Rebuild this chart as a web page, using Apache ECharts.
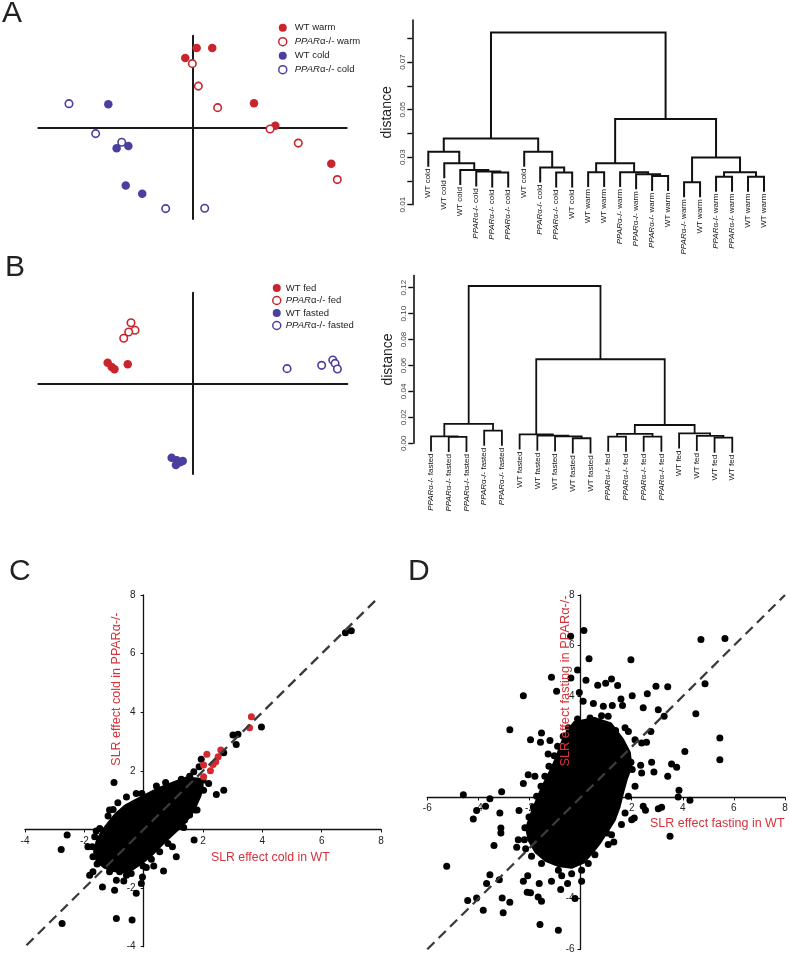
<!DOCTYPE html>
<html><head><meta charset="utf-8">
<script src="https://cdn.jsdelivr.net/npm/echarts@6/dist/echarts.min.js"></script>
<style>html,body{margin:0;padding:0;background:#fff}#c{width:790px;height:954px}</style>
</head><body><div id="c"></div>
<script>
// ---------- Panel A: PCA scores (warm / cold)
const aWtWarm   = [[0.27,5.19],[1.28,5.19],[-0.47,4.54],[3.99,1.57],[5.37,0.11],[9.0,-2.38]];
const aKoWarm   = [[-0.01,4.17],[0.38,2.70],[1.63,1.29],[5.03,-0.11],[6.86,-1.03],[9.39,-3.42]];
const aWtCold   = [[-5.46,1.51],[-4.92,-1.37],[-4.16,-1.22],[-4.33,-3.80],[-3.26,-4.34]];
const aKoCold   = [[-8.01,1.55],[-6.28,-0.41],[-4.59,-0.98],[-1.74,-5.32],[0.79,-5.30]];
// ---------- Panel A: dendrogram
const dendroALabels = ['WT cold','WT cold','WT cold','PPARα-/- cold','PPARα-/- cold','PPARα-/- cold','WT cold','PPARα-/- cold','PPARα-/- cold','WT cold','WT warm','WT warm','PPARα-/- warm','PPARα-/- warm','PPARα-/- warm','WT warm','PPARα-/- warm','WT warm','PPARα-/- warm','PPARα-/- warm','WT warm','WT warm'];
const dendroAMerges = [[-17,-18],[-19,-20],[-21,-22],[-15,-16],[-14,4],[-5,-6],[-9,-10],[2,3],[-11,-12],[-13,5],[-4,6],[-3,11],[-8,7],[-2,12],[9,10],[1,8],[-1,14],[-7,13],[17,18],[15,16],[19,20]];
const dendroAHeights = [0.0194,0.0218,0.0218,0.0221,0.0228,0.0235,0.0235,0.0236,0.0237,0.0237,0.0240,0.0246,0.0256,0.0274,0.0274,0.0299,0.0323,0.0323,0.0379,0.0460,0.0824];
const dendroAHang = 0.0063;
const dendroATicks = [0.01,0.02,0.03,0.04,0.05,0.06,0.07,0.08];
const dendroATickLabels = [0.01,0.03,0.05,0.07];
// ---------- Panel B: PCA scores (fed / fasted)
const bWtFed     = [[-5.51,1.36],[-5.25,1.08],[-5.07,0.93],[-4.21,1.26]];
const bKoFed     = [[-4.00,4.01],[-3.74,3.51],[-4.15,3.40],[-4.47,2.98]];
const bWtFasted  = [[-1.37,-4.93],[-1.04,-5.10],[-0.65,-5.15],[-1.09,-5.41],[-0.83,-5.23]];
const bKoFasted  = [[6.10,0.97],[8.34,1.19],[9.06,1.54],[9.21,1.32],[9.36,0.95]];
// ---------- Panel B: dendrogram
const dendroBLabels = ['PPARα-/- fasted','PPARα-/- fasted','PPARα-/- fasted','PPARα-/- fasted','PPARα-/- fasted','WT fasted','WT fasted','WT fasted','WT fasted','WT fasted','PPARα-/- fed','PPARα-/- fed','PPARα-/- fed','PPARα-/- fed','WT fed','WT fed','WT fed','WT fed'];
const dendroBMerges = [[-9,-10],[-17,-18],[-2,-3],[-11,-12],[-13,-14],[-1,3],[-8,1],[-16,2],[-7,7],[-6,9],[4,5],[-15,8],[-4,-5],[11,12],[6,13],[10,14],[15,16]];
const dendroBHeights = [0.0039,0.0044,0.0049,0.0051,0.0051,0.0054,0.0054,0.0057,0.0059,0.0069,0.0072,0.0077,0.0098,0.0141,0.0149,0.0648,0.1213];
const dendroBHang = 0.0117;
const dendroBTicks = [0,0.02,0.04,0.06,0.08,0.10,0.12];
// ---------- Panel C: SLR effect cold (WT vs PPARa-/-)
const cCore = [[1.89,1.68],[1.44,1.72],[0.99,1.55],[0.54,1.37],[0.09,1.14],[-0.30,0.94],[-0.64,0.74],[-0.92,0.49],[-1.15,0.20],[-1.37,-0.08],[-1.54,-0.42],[-1.62,-0.76],[-1.54,-1.05],[-1.31,-1.25],[-1.03,-1.37],[-0.70,-1.41],[-0.36,-1.30],[-0.08,-1.10],[0.20,-0.88],[0.48,-0.59],[0.76,-0.31],[1.04,-0.05],[1.30,0.20],[1.53,0.49],[1.72,0.83],[1.87,1.17],[1.94,1.51]];
const cGenes = [[6.80,6.71],[7.00,6.78],[3.97,3.50],[3.18,3.25],[3.01,3.22],[3.12,2.90],[2.70,2.62],[1.94,2.40],[1.87,2.14],[1.69,1.97],[1.55,1.82],[1.27,1.71],[0.74,1.60],[2.19,1.57],[2.45,1.19],[2.70,1.34],[1.72,0.66],[1.55,0.49],[1.07,0.09],[0.97,-0.59],[1.10,-0.93],[1.70,-0.36],[0.67,-1.42],[0.34,-1.25],[-0.04,-1.62],[-0.08,-1.84],[-0.25,-2.18],[-0.67,-1.76],[-0.92,-1.73],[-0.98,-2.07],[-1.39,-1.96],[-1.71,-1.44],[-1.82,-1.56],[-1.88,-0.59],[-1.60,-0.05],[-2.58,-0.19],[-2.78,-0.68],[-2.75,-3.21],[-0.92,-3.04],[-0.39,-3.09],[-1.00,1.60],[-0.06,1.23],[-1.20,0.46],[-1.03,0.68],[-0.53,0.77],[-1.48,-0.48],[-0.81,-1.44],[-0.42,-1.50],[0.09,-1.30],[1.38,0.32],[1.49,1.11],
 [-1.15,0.66],[-0.87,0.91],[-0.58,1.11],[-0.25,1.23],[0.43,1.48],[-1.48,0.03],[-1.65,-0.25],[-1.73,-0.59],[-1.71,-0.93],[-1.57,-1.18],[-1.15,-1.44],[-0.58,-1.56],[-0.02,-1.25],[0.26,-1.02],[0.54,-0.76],[0.82,-0.48],[1.35,0.07],[1.80,0.66],[2.02,1.34],[2.00,1.68]];
const cRedGenes = [[3.63,3.85],[3.57,3.47],[2.60,2.71],[2.51,2.48],[2.43,2.31],[2.34,2.22],[2.25,2.00],[2.13,2.57],[2.02,2.20],[2.02,1.80]];
const cIdentity = [-3.95, 7.85];
// ---------- Panel D: SLR effect fasting (WT vs PPARa-/-)
const dCore = [[-0.22,2.92],[0.56,3.08],[1.15,2.88],[1.60,2.28],[1.87,1.76],[1.93,1.23],[1.74,0.70],[1.60,0.18],[1.47,-0.35],[1.28,-0.88],[0.95,-1.40],[0.69,-1.80],[0.43,-2.13],[0.10,-2.52],[-0.35,-2.72],[-0.87,-2.65],[-1.33,-2.46],[-1.72,-2.13],[-1.98,-1.67],[-2.07,-1.21],[-1.94,-0.81],[-1.79,-0.41],[-1.63,-0.02],[-1.46,0.38],[-1.27,0.77],[-1.07,1.17],[-0.90,1.56],[-0.74,2.02],[-0.55,2.48]];
const dGenes = [[0.13,6.60],[-0.39,6.37],[0.33,5.48],[1.97,5.44],[-0.12,5.04],[-0.38,4.72],[-1.14,4.75],[0.21,4.63],[1.21,4.68],[0.67,4.43],[0.98,4.51],[1.45,4.42],[-0.05,4.15],[-0.94,4.20],[-2.24,4.02],[1.58,3.89],[2.02,4.02],[2.61,4.10],[2.95,4.39],[3.41,4.37],[0.10,3.80],[0.50,3.71],[0.89,3.60],[1.24,3.63],[1.64,3.63],[2.45,3.54],[3.04,3.47],[3.27,3.21],[4.71,6.24],[5.65,6.28],[4.87,4.49],[4.51,3.31],[5.45,2.35],[5.45,1.49],[4.08,1.82],[3.56,1.32],[3.76,1.19],[3.41,0.84],[2.78,1.39],[2.87,1.01],[2.35,1.27],[1.97,1.39],[2.39,0.97],[3.85,0.28],[3.82,0.02],[4.28,-0.11],[3.17,-0.39],[3.04,-0.45],[3.50,-1.53],[2.45,-0.35],[2.54,-0.51],[2.10,-0.81],[2.00,-0.88],[1.30,-1.76],[1.02,-1.40],[0.53,-1.86],[1.08,-0.88],[2.75,2.61],[-2.77,2.68],[-1.96,2.28],[-1.53,2.55],[-1.20,2.25],[-1.57,2.18],[-1.27,1.72],[-1.79,0.84],[-2.05,0.90],[-2.24,0.55],[-3.09,0.23],[-3.55,-0.05],[-3.72,-0.35],[-4.07,-0.52],[-4.20,-0.85],[-4.59,0.11],[-3.16,-0.61],[-3.12,-1.21],[-3.12,-1.40],[-2.41,-0.52],[-3.39,-1.90],[-2.44,-1.67],[-2.50,-1.97],[-5.24,-2.72],[-3.55,-3.05],[-3.18,-3.25],[-3.68,-3.40],[-4.42,-4.07],[-4.07,-3.97],[-3.81,-4.46],[-3.07,-3.97],[-2.77,-4.14],[-3.03,-4.56],[-2.07,-3.09],[-2.24,-3.31],[-2.09,-3.75],[-1.96,-3.77],[-1.66,-3.93],[-1.53,-4.10],[-1.59,-5.02],[-0.87,-5.25],[-0.22,-3.99],[0.04,-3.31],[-0.51,-3.40],[-0.78,-3.64],[-1.14,-3.31],[-1.62,-3.40],[-0.74,-3.09],
 [0.37,3.14],[0.82,3.23],[1.08,3.21],[-0.12,3.10],[1.87,2.61],[2.13,2.28],[2.39,2.15],[2.58,2.18],[1.74,2.75],[1.37,2.65],[2.02,1.10],[2.13,0.44],[1.87,0.05],[1.74,-0.61],[1.60,-1.07],[1.21,-1.47],[1.08,-1.86],[0.56,-2.26],[0.30,-2.61],[0.04,-2.88],[-0.35,-3.01],[-0.87,-2.88],[-1.53,-2.61],[-1.92,-2.32],[-2.15,-2.03],[-2.20,-1.67],[-2.18,-1.20],[-2.02,-0.77],[-1.85,-0.38],[-1.72,0.05],[-1.55,0.44],[-1.40,0.84],[-1.24,1.23],[-1.03,1.65],[-0.90,2.02],[-0.68,2.42],[-0.48,2.75]];
const dIdentity = [-6, 8];

const RED = '#C9252C', BLUE = '#4A3F9F', TRED = '#D3333B';
const FF = '"Liberation Sans", Arial, sans-serif';
const italicPPAR = s => s.replace('PPAR', '{i|PPAR}');

const chart = echarts.init(document.getElementById('c'), null, {renderer: 'canvas', width: 790, height: 954});

// grid geometry (layout only)
const G = [
  {left: 38.3, top: 35.7, width: 308.4, height: 183.3},
  {left: 412.3, top: 20, width: 367.7, height: 184.7},
  {left: 38.3, top: 292.7, width: 309, height: 181.2},
  {left: 413.3, top: 275.6, width: 336.7, height: 167.7},
  {left: 25, top: 595, width: 356, height: 351.7},
  {left: 427.3, top: 595, width: 357.7, height: 354.3}
];

function crossAxis(grid, min, max) {
  return {gridIndex: grid, type: 'value', min, max,
    axisLine: {show: true, onZero: true, lineStyle: {color: '#1a1a1a', width: 2}},
    axisTick: {show: false}, axisLabel: {show: false}, splitLine: {show: false}};
}
function hiddenAxis(grid, min, max) {
  return {gridIndex: grid, type: 'value', min, max, show: false, splitLine: {show: false}};
}
function dendroYAxis(grid, min, max, ticks, labels, digits) {
  return {gridIndex: grid, type: 'value', min, max,
    axisLine: {show: true, onZero: false, lineStyle: {color: '#111', width: 1.6}},
    axisTick: {show: true, length: 5, customValues: ticks, lineStyle: {color: '#111', width: 1.4}},
    axisLabel: {customValues: labels, rotate: 90, margin: 6, fontSize: 8, color: '#444', fontFamily: FF,
      formatter: v => Number(v).toFixed(digits)},
    splitLine: {show: false},
    name: 'distance', nameLocation: 'middle', nameGap: 18,
    nameTextStyle: {fontSize: 14, color: '#222', fontFamily: FF}};
}
// SLR axes: crossing at zero (shifted with offset so line, ticks and labels move together)
function slrAxis(dim, grid, min, max, otherMin, otherMax, margin) {
  const g = G[grid];
  const off = dim === 'x' ? -g.height * (0 - otherMin) / (otherMax - otherMin)
                          : -g.width * (0 - otherMin) / (otherMax - otherMin);
  return {gridIndex: grid, type: 'value', min, max, interval: 2, offset: off,
    axisLine: {show: true, onZero: false, lineStyle: {color: '#111', width: 1.3}},
    axisTick: {show: true, length: 3, lineStyle: {color: '#111', width: 1}},
    axisLabel: {margin, fontSize: 10, color: '#222', fontFamily: FF, formatter: v => v === 0 ? '' : String(v)},
    splitLine: {show: false}};
}
function pcaSeries(name, grid, data, color, open) {
  return {name, type: 'scatter', xAxisIndex: grid, yAxisIndex: grid, data, symbolSize: open ? 7.5 : 8.5,
    symbol: 'circle', silent: true,
    itemStyle: open ? {color: '#fff', borderColor: color, borderWidth: 1.6, opacity: 1} : {color, opacity: 1}};
}
function dendroSeries(grid, merges, heights, hang, labels, lw) {
  const nx = [];
  const cx = c => c < 0 ? -c : nx[c - 1];
  merges.forEach((m, i) => { nx[i] = (cx(m[0]) + cx(m[1])) / 2; });
  return {type: 'custom', xAxisIndex: grid, yAxisIndex: grid, clip: false, silent: true,
    data: merges.map((m, i) => [nx[i], heights[i]]),
    renderItem(params, api) {
      const i = params.dataIndex, m = merges[i], h = heights[i];
      const kids = m.map(c => c < 0 ? {x: -c, y: h - hang, leaf: -c} : {x: nx[c - 1], y: heights[c - 1]});
      const pts = [api.coord([kids[0].x, kids[0].y]), api.coord([kids[0].x, h]),
                   api.coord([kids[1].x, h]), api.coord([kids[1].x, kids[1].y])];
      const children = [{type: 'polyline', shape: {points: pts},
        style: {stroke: '#111', lineWidth: lw, fill: null, lineJoin: 'miter', lineCap: 'butt'}}];
      kids.forEach(k => {
        if (k.leaf) {
          const p = api.coord([k.x, k.y]);
          children.push({type: 'text', x: p[0], y: p[1] + 2, rotation: Math.PI / 2,
            style: {text: italicPPAR(labels[k.leaf - 1]), fontSize: 8, fontFamily: FF, fill: '#111',
              align: 'right', verticalAlign: 'middle',
              rich: {i: {fontStyle: 'italic', fontSize: 8, fontFamily: FF, fill: '#111'}}}});
        }
      });
      return {type: 'group', children};
    }};
}
function coreSeries(grid, poly) {
  return {type: 'custom', xAxisIndex: grid, yAxisIndex: grid, silent: true, data: [0],
    renderItem(params, api) {
      return {type: 'polygon', shape: {points: poly.map(v => api.coord(v))},
        style: {fill: '#000', stroke: '#000', lineWidth: 5, lineJoin: 'round'}};
    }};
}
function identitySeries(grid, ext) {
  return {type: 'line', xAxisIndex: grid, yAxisIndex: grid, silent: true, symbol: 'none',
    data: [[ext[0], ext[0]], [ext[1], ext[1]]], z: 5,
    lineStyle: {color: '#3a3a3a', width: 2.3, type: [10, 6]}};
}
function legendFor(left, top, gap, padLeft, names) {
  return {left, top, padding: 0, orient: 'vertical', itemWidth: 8, itemHeight: 8, itemGap: gap, selectedMode: false,
    data: names.map(n => ({name: n.name, icon: 'circle',
      itemStyle: n.open ? {color: '#fff', borderColor: n.color, borderWidth: 1.5} : {color: n.color, borderWidth: 0}})),
    formatter: italicPPAR,
    textStyle: {fontSize: 9.5, color: '#222', fontFamily: FF, lineHeight: 8, padding: [0, 0, 0, padLeft],
      rich: {i: {fontStyle: 'italic', fontSize: 9.5, fontFamily: FF, color: '#222', lineHeight: 8}}}};
}
function txt(text, x, y, size, color, opts) {
  return Object.assign({type: 'text', x, y, z: 100,
    style: Object.assign({text, fontSize: size, fontFamily: FF, fill: color, align: 'left', verticalAlign: 'middle'}, opts && opts.style || {})},
    opts && opts.el || {});
}

const option = {
  animation: false,
  backgroundColor: '#fff',
  grid: G.map(g => Object.assign({outerBoundsMode: 'none', containLabel: false}, g)),
  xAxis: [crossAxis(0, -10, 10), hiddenAxis(1, 0, 23), crossAxis(2, -10, 10), hiddenAxis(3, 0, 19),
          slrAxis('x', 4, -4, 8, -4, 8, 7), slrAxis('x', 5, -6, 8, -6, 8, 6)],
  yAxis: [crossAxis(0, -6, 6), dendroYAxis(1, 0.01, 0.0877, dendroATicks, dendroATickLabels, 2),
          crossAxis(2, -6, 6), dendroYAxis(3, 0, 0.1293, dendroBTicks, dendroBTicks, 2),
          slrAxis('y', 4, -4, 8, -4, 8, 8), slrAxis('y', 5, -6, 8, -6, 8, 6)],
  legend: [
    legendFor(278, 22.7, 4.0, 3, [{name: 'WT warm', color: RED}, {name: 'PPARα-/- warm', color: RED, open: true},
                               {name: 'WT cold', color: BLUE}, {name: 'PPARα-/- cold', color: BLUE, open: true}]),
    legendFor(272, 283, 2.5, 0, [{name: 'WT fed', color: RED}, {name: 'PPARα-/- fed', color: RED, open: true},
                             {name: 'WT fasted', color: BLUE}, {name: 'PPARα-/- fasted', color: BLUE, open: true}])
  ],
  series: [
    pcaSeries('WT warm', 0, aWtWarm, RED, false),
    pcaSeries('PPARα-/- warm', 0, aKoWarm, RED, true),
    pcaSeries('WT cold', 0, aWtCold, BLUE, false),
    pcaSeries('PPARα-/- cold', 0, aKoCold, BLUE, true),
    dendroSeries(1, dendroAMerges, dendroAHeights, dendroAHang, dendroALabels, 2),
    pcaSeries('WT fed', 2, bWtFed, RED, false),
    pcaSeries('PPARα-/- fed', 2, bKoFed, RED, true),
    pcaSeries('WT fasted', 2, bWtFasted, BLUE, false),
    pcaSeries('PPARα-/- fasted', 2, bKoFasted, BLUE, true),
    dendroSeries(3, dendroBMerges, dendroBHeights, dendroBHang, dendroBLabels, 1.8),
    coreSeries(4, cCore),
    {type: 'scatter', xAxisIndex: 4, yAxisIndex: 4, data: cGenes, symbolSize: 7, silent: true, itemStyle: {color: '#000', opacity: 1}},
    {type: 'scatter', xAxisIndex: 4, yAxisIndex: 4, data: cRedGenes, symbolSize: 7, silent: true, z: 3, itemStyle: {color: '#D42A2F', opacity: 1}},
    identitySeries(4, cIdentity),
    coreSeries(5, dCore),
    {type: 'scatter', xAxisIndex: 5, yAxisIndex: 5, data: dGenes, symbolSize: 7, silent: true, itemStyle: {color: '#000', opacity: 1}},
    identitySeries(5, dIdentity)
  ],
  graphic: [
    txt('A', 2, 14, 30, '#222'),
    txt('B', 5, 268, 30, '#222'),
    txt('C', 9, 572, 30, '#222'),
    txt('D', 408, 572, 30, '#222'),
    txt('SLR effect cold in WT', 211, 858, 12.3, TRED),
    txt('SLR effect cold in PPARα-/-', 116.7, 689, 12.5, TRED, {style: {align: 'center'}, el: {rotation: Math.PI / 2}}),
    txt('SLR effect fasting in WT', 650, 824, 12.5, TRED),
    txt('SLR effect fasting in PPARα-/-', 565, 681, 12.8, TRED, {style: {align: 'center'}, el: {rotation: Math.PI / 2}})
  ]
};
chart.setOption(option);
</script></body></html>
